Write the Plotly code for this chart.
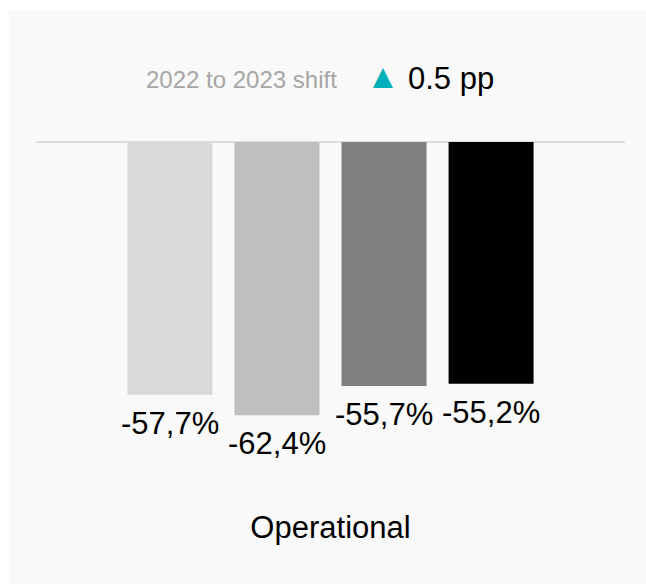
import plotly.graph_objects as go

# Data
category = ["Operational"]
series_names = ["2020", "2021", "2022", "2023"]
series_values = [-57.7, -62.4, -55.7, -55.2]
series_colors = ["#d9d9d9", "#bfbfbf", "#7f7f7f", "#000000"]
shift_label = "2022 to 2023 shift"
shift_value = 0.5

W, H = 646, 584
M_L, M_R, M_T, M_B = 36, 21, 142, 78
PLOT_W = W - M_L - M_R
PLOT_H = H - M_T - M_B
Y_MIN = -PLOT_H / 4.38
BARGAP, BARGROUPGAP = 0.273, 0.206
CARD_BG = "#f9f9f9"


def px_to_paper(px, py):
    return (px - M_L) / PLOT_W, (H - M_B - py) / PLOT_H


def fmt(v):
    return f"{v:.1f}%".replace(".", ",")


fig = go.Figure()
for name, val, col in zip(series_names, series_values, series_colors):
    fig.add_trace(go.Bar(
        x=category, y=[val], name=name,
        marker=dict(color=col, line=dict(width=0)),
        cliponaxis=False, hoverinfo="skip",
    ))

# white frame strips along the top and left of the grey card
fx, fy = px_to_paper(9, 10)
lx0, ly0 = px_to_paper(-20, H + 20)
rx1, ty1 = px_to_paper(W + 20, -20)
shapes = [
    dict(type="rect", xref="paper", yref="paper", x0=lx0, x1=rx1, y0=fy, y1=ty1,
         fillcolor="#ffffff", line=dict(width=0), layer="below"),
    dict(type="rect", xref="paper", yref="paper", x0=lx0, x1=fx, y0=ly0, y1=ty1,
         fillcolor="#ffffff", line=dict(width=0), layer="below"),
]

ann = []
# value labels under each bar of the group
slot = PLOT_W * (1 - BARGAP) / len(series_values)
for i, val in enumerate(series_values):
    ann.append(dict(text=fmt(val), x=category[0], y=val, xref="x", yref="y",
                    xshift=(i - (len(series_values) - 1) / 2) * slot, yshift=-9,
                    xanchor="center", yanchor="top", showarrow=False,
                    font=dict(size=31, color="#000000")))

ax, ay = px_to_paper(339, 80)
ann.append(dict(text=shift_label, xref="paper", yref="paper", x=ax, y=ay,
                xanchor="right", yanchor="middle", showarrow=False,
                font=dict(size=24, color="#a6a6a6")))
tx, ty = px_to_paper(383, 76)
ann.append(dict(text="▲", xref="paper", yref="paper", x=tx, y=ty,
                xanchor="center", yanchor="middle", showarrow=False,
                font=dict(size=34, color="#00b0b9")))
vx, vy = px_to_paper(406, 79)
ann.append(dict(text=f"{shift_value} pp", xref="paper", yref="paper", x=vx, y=vy,
                xanchor="left", yanchor="middle", showarrow=False,
                font=dict(size=31, color="#000000")))

fig.update_layout(
    width=W, height=H,
    margin=dict(l=M_L, r=M_R, t=M_T, b=M_B, pad=0),
    paper_bgcolor=CARD_BG, plot_bgcolor="rgba(0,0,0,0)",
    font=dict(family="Arial, Liberation Sans, sans-serif", color="#000000"),
    barmode="group", bargap=BARGAP, bargroupgap=BARGROUPGAP,
    showlegend=False,
    shapes=shapes, annotations=ann,
    xaxis=dict(showgrid=False, showline=False, ticks="",
               tickfont=dict(size=31, color="#000000"), fixedrange=True),
    yaxis=dict(range=[Y_MIN, 0], showgrid=False, showticklabels=False,
               zeroline=True, zerolinecolor="#dddddd", zerolinewidth=2,
               showline=False, fixedrange=True),
)

fig.write_html("out.html", config={"displayModeBar": False})
